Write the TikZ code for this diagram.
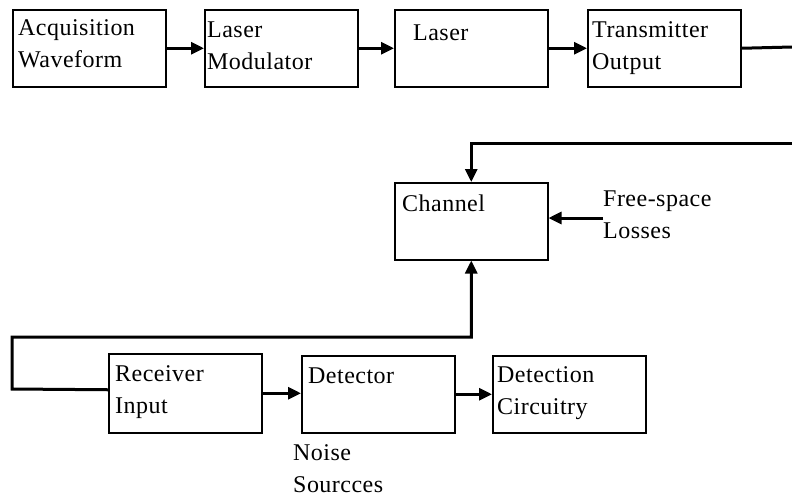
\documentclass[tikz,border=0pt]{standalone}
\usepackage{fontspec}
\setmainfont{Liberation Serif}[LetterSpace=2]
\usetikzlibrary{arrows.meta,calc}
\begin{document}
\begin{tikzpicture}[x=1pt,y=-1pt,
  box/.style={draw,line width=1.5pt,minimum width=153pt,minimum height=77pt,inner sep=0pt,anchor=north west},
  txt/.style={anchor=base west,inner sep=0pt,align=left,font=\fontsize{24}{32}\selectfont},
  conn/.style={line width=3pt},
  arr/.style={conn,-{Triangle[length=13pt,width=12pt]}}]
\useasboundingbox (0,0) rectangle (792,499);
% boxes
\node[box] (acq) at (12,9) {};
\node[box] (lmod) at (204,9) {};
\node[box] (laser) at (394,9) {};
\node[box] (tx) at (587,9) {};
\node[box] (chan) at (394,182) {};
\node[box,minimum height=79pt] (rx) at (108,353) {};
\node[box] (det) at (301,355) {};
\node[box] (dc) at (492,355) {};
% texts (base anchor = last line baseline)
\node[txt] (tacq) at (18,67) {Acquisition\\Waveform};
\node[txt] (tlmod) at (207,69) {Laser\\Modulator};
\node[txt] (tlaser) at (413,40) {Laser};
\node[txt] (ttx) at (592,69) {Transmitter\\Output};
\node[txt] (tchan) at (402,211) {Channel};
\node[txt] (tfs) at (603,238) {Free-space\\Losses};
\node[txt] (trx) at (115,413) {Receiver\\Input};
\node[txt] (tdet) at (308,383) {Detector};
\node[txt] (tdc) at (497,414) {Detection\\Circuitry};
\node[txt] (tns) at (293,492) {Noise\\Sourcces};
% connectors
\coordinate (r1) at (792,47);
\coordinate (r2) at (792,143);
\coordinate (fs) at (603,218);
\coordinate (l1) at (12,389);
\coordinate (l2) at (12,337);
\draw[arr] (acq.east) -- (lmod.west);
\draw[arr] (lmod.east) -- (laser.west);
\draw[arr] (laser.east) -- (tx.west);
\draw[conn] (tx.east) -- (r1);
\draw[arr] (r2) -| (chan.north);
\draw[arr] (fs) -- (fs -| chan.east);
\draw[arr] ([yshift=3.5pt]rx.west) -- (l1) -- (l2) -| (chan.south);
\draw[arr] (rx.east) -- (rx.east -| det.west);
\draw[arr] (det.east) -- (dc.west);
\end{tikzpicture}
\end{document}
